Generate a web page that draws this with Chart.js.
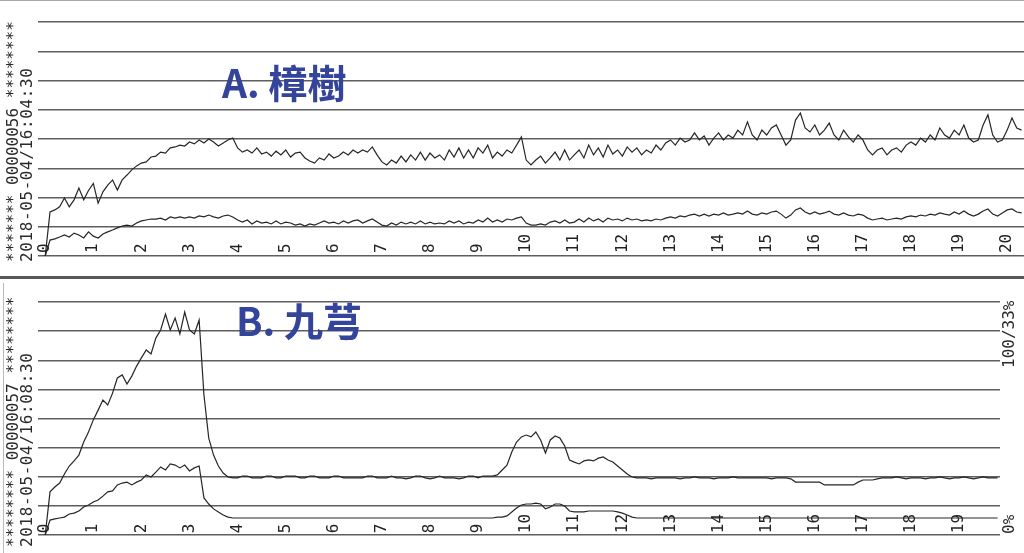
<!DOCTYPE html>
<html>
<head>
<meta charset="utf-8">
<script src="https://cdn.jsdelivr.net/npm/chart.js@4.4.1/dist/chart.umd.min.js"></script>
<style>
  html, body { margin: 0; padding: 0; background: #fff; }
  #page { position: relative; width: 1024px; height: 553px; overflow: hidden; background: #fff; }
  .panel { position: absolute; left: 0; width: 1024px; }
  #panelA { top: 0; height: 277px; }
  #panelB { top: 277px; height: 276px; }
  .rot {
    position: absolute; transform-origin: 0 0; transform: rotate(-90deg);
    white-space: pre; font-family: "DejaVu Sans Mono", monospace;
    font-size: 16px; line-height: 16px; color: #2a2a2a;
  }
  .wide { letter-spacing: 0.6px; }
  .title {
    position: absolute; font-family: "Noto Sans CJK TC", "Noto Sans", sans-serif;
    font-weight: 700; font-size: 39px; line-height: 1; color: #33449a; white-space: nowrap;
  }
  #edgeTop { position: absolute; left: 0; top: 0; width: 1024px; height: 1px; background: #aaa; }
  #divider { position: absolute; left: 0; top: 276px; width: 1024px; height: 3px; background: #585858; }
  #edgeB { position: absolute; left: 3px; top: 283px; width: 1px; height: 270px; background: #bbb; }
</style>
</head>
<body>
<div id="page">
  <div class="panel" id="panelA"><canvas id="chartA" width="1024" height="277"></canvas></div>
  <div class="panel" id="panelB"><canvas id="chartB" width="1024" height="276"></canvas></div>

  <div id="edgeTop"></div>
  <div id="divider"></div>
  <div id="edgeB"></div>

  <!-- texto lateral (impresso girado) -->
  <div class="rot" style="left:5px; top:262px;">******* 00000056 ********</div>
  <div class="rot wide" style="left:19px; top:262px;">2018-05-04/16:04:30</div>
  <div class="rot" style="left:5px; top:547px;">******** 00000057 ********</div>
  <div class="rot wide" style="left:19px; top:547px;">2018-05-04/16:08:30</div>

  <div class="rot" style="left:1001px; top:368px;">100/33%</div>
  <div class="rot" style="left:1001px; top:534px;">0%</div>

  <div class="title" style="left:222px; top:62px;">A. 樟樹</div>
  <div class="title" style="left:236px; top:300px;">B. 九芎</div>
</div>

<script>
/* =========================
   DADOS
========================= */

// leitura a cada 0.1 unidade do eixo x
const STEP = 0.1;

const tickDaysA = [0, 1, 2, 3, 4, 5, 6, 7, 8, 9, 10, 11, 12, 13, 14, 15, 16, 17, 18, 19, 20];
const tickDaysB = [0, 1, 2, 3, 4, 5, 6, 7, 8, 9, 10, 11, 12, 13, 14, 15, 16, 17, 18, 19];

// A. 樟樹 (% da escala)
const aUpper = [
  0, 18.8, 19.7, 21, 24.8, 21, 24, 29, 24, 28,
  31, 22.6, 27.4, 30.3, 32.5, 28.2, 32.5, 34.6, 36.8, 38.5,
  39.7, 40.2, 42.3, 42.7, 44.4, 44, 46.2, 46.6, 47.4, 47,
  48.7, 47.9, 49.6, 48.3, 50, 48.7, 47, 48.3, 49.6, 50.4,
  46.2, 44.4, 45.3, 44, 46.2, 43.6, 44.4, 42.7, 44.8, 43.2,
  45.3, 42.3, 44, 44.4, 41.9, 40.6, 39.7, 41.9, 41, 43.6,
  41.9, 42.7, 44.4, 43.2, 45.3, 44, 45.3, 44.4, 46.6, 43.2,
  40.2, 38.9, 41, 39.7, 42.7, 40.2, 43.2, 41, 44.4, 41,
  44, 41.9, 43.2, 41, 45.3, 42.3, 46.2, 41.9, 45.3, 41.9,
  46.2, 44, 47.4, 41.9, 44.4, 42.7, 45.3, 44, 47.4, 50.9,
  41, 38.9, 41, 42.7, 39.7, 41.9, 44.4, 41, 45.3, 41,
  43.2, 45.3, 41.9, 47.4, 43.2, 46.2, 42.3, 47.4, 43.6, 45.3,
  42.7, 46.6, 44.4, 46.2, 43.2, 45.3, 44, 47.4, 45.3, 48.3,
  49.6, 47.4, 50.4, 48.7, 49.6, 52.6, 49.6, 51.3, 47.4, 50.4,
  52.6, 49.6, 51.7, 50.4, 53.8, 51.7, 57.3, 51.7, 49.6, 53.8,
  51.7, 54.7, 56, 51.7, 47.4, 49.6, 58.1, 61.1, 54.7, 53,
  56, 51.7, 53.8, 56.8, 51.7, 49.6, 53.8, 50.9, 48.7, 51.7,
  49.6, 45.3, 43.2, 45.3, 46.2, 43.2, 45.3, 46.2, 44.4, 47.4,
  48.7, 47.4, 50.4, 48.7, 51.7, 49.6, 54.7, 51.7, 50.4, 53.8,
  51.7, 56, 50.4, 48.7, 49.6, 56, 60.3, 51.7, 48.7, 49.6,
  53.8, 59, 54.7, 53.8
];

const aLower = [
  0, 6.8, 7.3, 8.1, 9, 8.1, 9.8, 9, 7.7, 10.3,
  8.5, 7.7, 9.4, 10.3, 11.1, 12, 12.8, 13.2, 12.8, 14.1,
  15, 15.4, 15.8, 15.8, 16.2, 15.4, 16.7, 16.2, 16.7, 16.2,
  16.7, 16.2, 17.1, 16.7, 17.5, 16.7, 16.2, 17.1, 17.5, 16.7,
  15.4, 14.5, 15.4, 13.7, 15, 14.1, 14.5, 13.7, 15, 13.7,
  14.5, 14.1, 13.2, 13.7, 12.8, 13.7, 13.2, 14.1, 15, 14.1,
  14.5, 13.7, 15, 14.1, 15, 15.4, 14.1, 15, 15.8, 14.5,
  13.2, 12.8, 14.1, 13.2, 14.5, 13.7, 14.5, 13.7, 15, 13.7,
  14.5, 13.7, 14.1, 13.7, 15, 14.1, 15, 13.7, 14.5, 14.1,
  15.4, 14.5, 16.2, 14.5, 15.4, 14.5, 15.8, 15.4, 16.2, 16.7,
  14.1, 13.2, 13.2, 13.7, 13.2, 14.5, 15, 14.1, 15.4, 14.1,
  14.5, 15.8, 14.5, 16.2, 15, 15.8, 14.5, 16.2, 15.4, 15.8,
  15, 16.2, 15.4, 15.8, 15, 15.4, 15, 15.8, 15.4, 16.2,
  16.7, 16.2, 17.1, 16.7, 17.5, 17.9, 17.1, 17.9, 17.1, 17.9,
  17.5, 18.4, 17.5, 17.9, 18.4, 17.9, 19.2, 17.9, 17.5, 18.4,
  17.9, 18.8, 19.2, 17.9, 16.2, 17.5, 19.7, 20.5, 18.8, 17.9,
  18.8, 17.9, 18.4, 19.2, 17.9, 17.5, 18.4, 17.5, 17.1, 17.9,
  17.5, 16.2, 15.4, 15.8, 16.2, 15.4, 15.8, 16.2, 15.8, 16.7,
  17.1, 16.7, 17.5, 17.1, 17.9, 17.5, 18.4, 17.9, 17.5, 18.8,
  17.9, 19.2, 17.9, 17.1, 17.9, 19.2, 20.1, 17.9, 17.1, 18.4,
  19.7, 20.1, 18.8, 18.4
];

// B. 九芎 (% da escala)
const bUpper = [
  0, 18.5, 20.6, 22.3, 26.2, 29.6, 31.8, 34.3, 39.9, 44.2,
  49.4, 53.6, 57.9, 55.8, 60.9, 67.4, 68.7, 64.8, 68.2, 72.5,
  76, 79.4, 77.7, 84.5, 88, 94.8, 88, 93.1, 86.3, 95.7,
  88, 86.3, 92.3, 60.1, 41.6, 34.3, 29.6, 26.6, 24.9, 24.5,
  24.5, 25.3, 25.3, 24.5, 24.5, 24.5, 25.3, 25.3, 24.5, 24.5,
  25.3, 25.3, 25.3, 24.5, 24.5, 25.3, 25.3, 24.5, 24.5, 24.5,
  25.3, 25.3, 24.5, 24.5, 24.5, 24.5, 24.5, 25.3, 25.3, 24.5,
  24.5, 24.5, 25.3, 24.5, 24.5, 24.1, 24.5, 25.3, 25.3, 24.5,
  24.1, 24.5, 25.3, 24.5, 24.5, 24.5, 24.1, 24.5, 25.3, 25.3,
  24.5, 25.3, 25.3, 25.3, 25.8, 27.9, 30, 35.6, 39.9, 42.1,
  42.9, 42.1, 44.2, 40.8, 35.2, 40.8, 42.5, 41.6, 38.2, 32.2,
  31.3, 30.5, 31.8, 32.2, 31.8, 33, 33.5, 32.2, 31.3, 29.6,
  27.9, 26.2, 24.9, 24.5, 24.5, 24.5, 24.1, 24.5, 24.5, 24.5,
  24.5, 24.5, 24.1, 24.5, 24.5, 24.9, 24.5, 24.5, 24.5, 24.1,
  24.5, 24.5, 24.5, 24.9, 24.5, 24.5, 24.5, 24.5, 24.5, 24.5,
  24.5, 24.1, 24.5, 24.5, 24.5, 24.1, 22.7, 22.7, 22.7, 22.7,
  22.7, 22.7, 21.5, 21.5, 21.5, 21.5, 21.5, 21.5, 21.5, 22.7,
  23.6, 23.6, 23.6, 24.1, 24.5, 24.5, 24.5, 24.9, 24.5, 24.1,
  24.5, 24.5, 24.5, 24.1, 24.5, 24.5, 24.9, 24.5, 24.1, 24.5,
  24.5, 24.9, 24.5, 24.1, 24.5, 24.9, 24.5, 24.5, 24.5
];

const bLower = [
  0, 6.4, 6.9, 7.3, 7.7, 9, 9.4, 10.3, 12, 12.9,
  14.2, 15, 16.7, 18.5, 18.9, 21.5, 22.3, 22.7, 21.5, 22.7,
  23.6, 25.8, 24.9, 27, 29.2, 27.9, 30.5, 30, 28.8, 30,
  27.5, 28.8, 29.6, 15.9, 13.3, 11.2, 9.9, 8.6, 7.7, 7.3,
  7.3, 7.3, 7.3, 7.3, 7.3, 7.3, 7.3, 7.3, 7.3, 7.3,
  7.3, 7.3, 7.3, 7.3, 7.3, 7.3, 7.3, 7.3, 7.3, 7.3,
  7.3, 7.3, 7.3, 7.3, 7.3, 7.3, 7.3, 7.3, 7.3, 7.3,
  7.3, 7.3, 7.3, 7.3, 7.3, 7.3, 7.3, 7.3, 7.3, 7.3,
  7.3, 7.3, 7.3, 7.3, 7.3, 7.3, 7.3, 7.3, 7.3, 7.3,
  7.3, 7.3, 7.3, 7.3, 7.7, 7.7, 8.2, 9.9, 11.6, 12.9,
  13.3, 13.3, 13.7, 13.3, 11.2, 12, 13.3, 13.3, 12.4, 10.3,
  9.9, 9.9, 9.9, 10.3, 10.3, 10.3, 10.3, 10.3, 10.3, 9.9,
  9.4, 8.6, 7.7, 7.3, 7.3, 7.3, 7.3, 7.3, 7.3, 7.3,
  7.3, 7.3, 7.3, 7.3, 7.3, 7.3, 7.3, 7.3, 7.3, 7.3,
  7.3, 7.3, 7.3, 7.3, 7.3, 7.3, 7.3, 7.3, 7.3, 7.3,
  7.3, 7.3, 7.3, 7.3, 7.3, 7.3, 7.3, 7.3, 7.3, 7.3,
  7.3, 7.3, 7.3, 7.3, 7.3, 7.3, 7.3, 7.3, 7.3, 7.3,
  7.3, 7.3, 7.3, 7.3, 7.3, 7.3, 7.3, 7.3, 7.3, 7.3,
  7.3, 7.3, 7.3, 7.3, 7.3, 7.3, 7.3, 7.3, 7.3, 7.3,
  7.3, 7.3, 7.3, 7.3, 7.3, 7.3, 7.3, 7.3, 7.3
];

/* =========================
   ESTILO
========================= */

const INK = "#262626";
const GRID = "#5e5e5e";

function toPoints(arr) {
  return arr.map((v, i) => ({ x: i * STEP, y: v }));
}

function buildChart(canvasId, upper, lower, ticks, xMax, padding, labelPad) {
  return new Chart(document.getElementById(canvasId), {
    type: "line",
    data: {
      datasets: [
        { data: toPoints(upper) },
        { data: toPoints(lower) }
      ]
    },
    options: {
      responsive: false,
      animation: false,
      events: [],
      layout: { padding },
      plugins: { legend: { display: false }, tooltip: { enabled: false } },
      elements: {
        point: { radius: 0 },
        line: { borderWidth: 1.2, borderColor: INK, tension: 0, fill: false }
      },
      scales: {
        x: {
          type: "linear",
          min: -0.15,
          max: xMax,
          position: { y: 12.5 },
          grid: { display: false, drawTicks: false },
          border: { display: false },
          afterBuildTicks: s => { s.ticks = ticks.map(v => ({ value: v })); },
          afterFit: s => { s.paddingLeft = 0; s.paddingRight = 0; s.paddingTop = 0; s.paddingBottom = 0; },
          ticks: {
            autoSkip: false,
            minRotation: 90,
            maxRotation: 90,
            padding: labelPad,
            color: "#222",
            font: { family: "DejaVu Sans Mono", size: 16 },
            // rótulos de 1 dígito alinhados pela base
            callback: v => String(v).padEnd(2, " ")
          }
        },
        y: {
          min: 0,
          max: 100,
          afterFit: s => { s.width = 0; },
          ticks: { display: false, stepSize: 12.5 },
          grid: { color: GRID, lineWidth: 1.4, drawTicks: false },
          border: { display: false }
        }
      }
    }
  });
}

buildChart("chartA", aUpper, aLower, tickDaysA, 20.35, { left: 38, right: 0, top: 22, bottom: 21 }, 7);
buildChart("chartB", bUpper, bLower, tickDaysB, 19.85, { left: 38, right: 24, top: 25, bottom: 18 }, 8);
</script>
</body>
</html>
